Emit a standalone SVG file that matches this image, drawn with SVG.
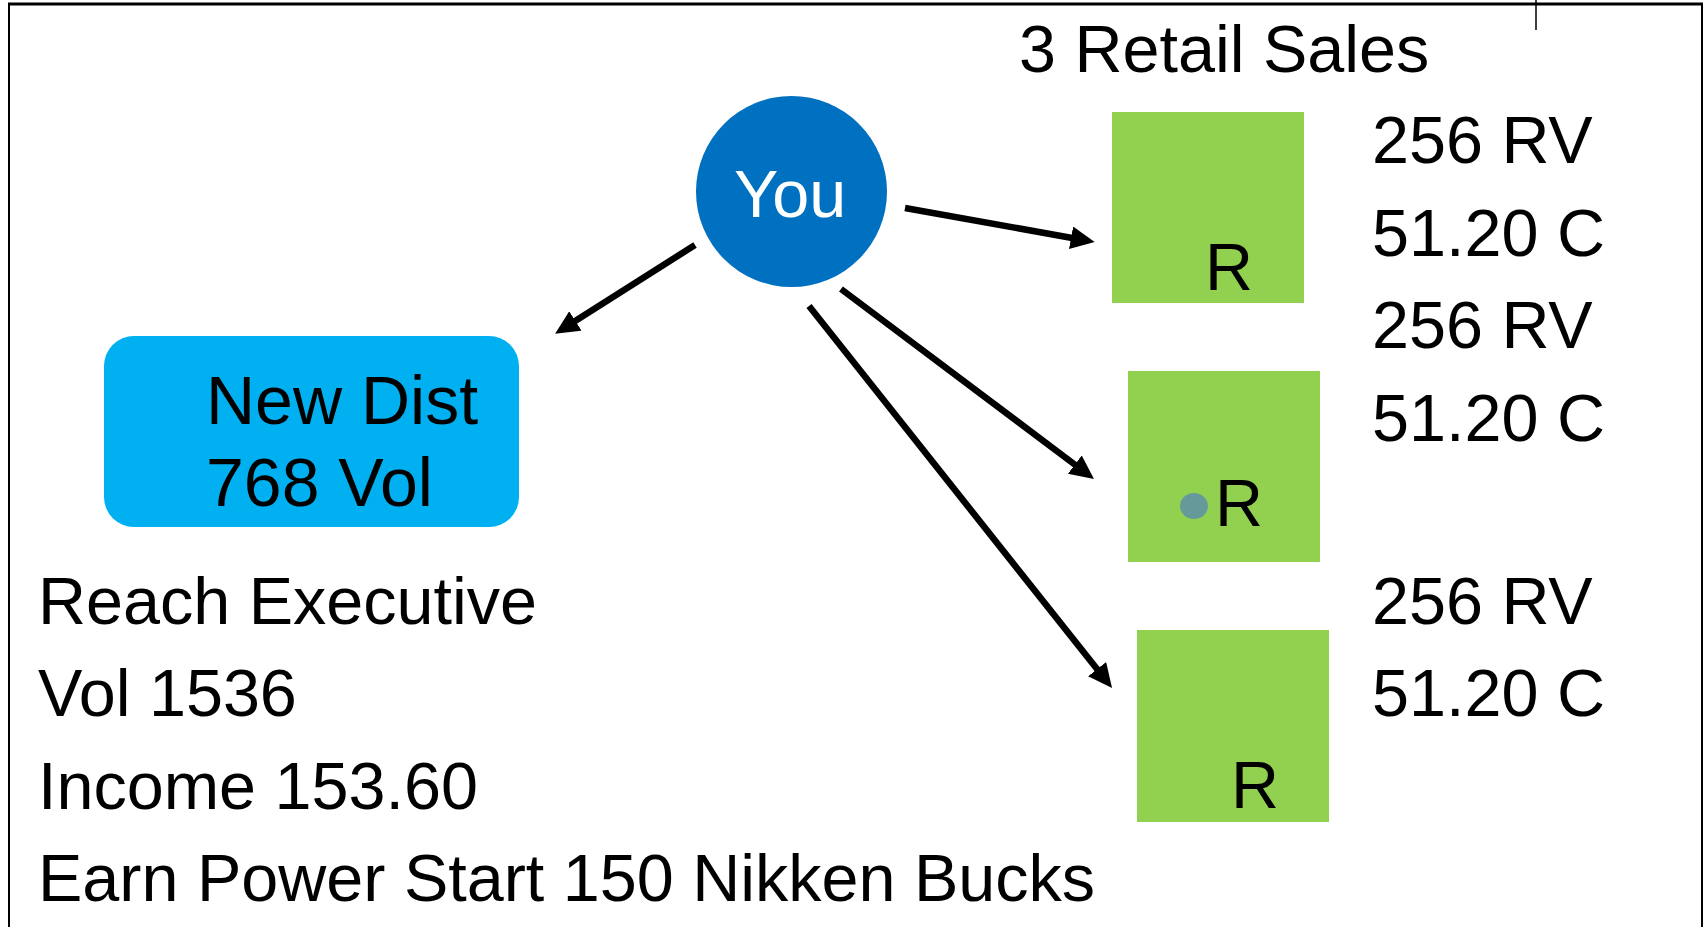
<svg xmlns="http://www.w3.org/2000/svg" width="1707" height="927" viewBox="0 0 1707 927">
<style>
  .t { font-family: "Liberation Sans", Arial, sans-serif; font-size: 66.5px; fill: #000; }
  .green { fill: #92D050; }
  .conn { stroke: #000; stroke-width: 6.5; fill: none; }
  .frame { stroke: #000; fill: none; }
</style>
<defs>
  <marker id="ah" markerUnits="userSpaceOnUse" markerWidth="26" markerHeight="24" refX="4" refY="11.5" orient="auto">
    <path d="M0,0 L24,11.5 L0,23 z" fill="#000"/>
  </marker>
</defs>
<rect width="1707" height="927" fill="#fff"/>
<g id="frame">
  <line class="frame" x1="8" y1="4" x2="1703" y2="4" stroke-width="3"/>
  <line class="frame" x1="9" y1="3" x2="9" y2="927" stroke-width="2"/>
  <line class="frame" x1="1702" y1="3" x2="1702" y2="927" stroke-width="2"/>
  <line class="frame" x1="1536" y1="0" x2="1536" y2="30" stroke-width="1.5"/>
</g>
<g id="connectors">
  <line class="conn" x1="695" y1="245" x2="572" y2="323" marker-end="url(#ah)"/>
  <line class="conn" x1="905" y1="208" x2="1075" y2="238.5" marker-end="url(#ah)"/>
  <line class="conn" x1="841" y1="289" x2="1078" y2="467" marker-end="url(#ah)"/>
  <line class="conn" x1="809" y1="306" x2="1099.6" y2="672.3" marker-end="url(#ah)"/>
</g>
<g id="title">
  <text class="t" x="1019" y="72">3 Retail Sales</text>
</g>
<g id="you">
  <circle cx="791.5" cy="191.5" r="95.5" fill="#0070C0"/>
  <text class="t" x="790" y="217" text-anchor="middle" style="fill:#fff" font-size="64">You</text>
</g>
<g id="retail1">
  <rect class="green" x="1112" y="112" width="192" height="191"/>
  <text class="t" x="1205" y="290">R</text>
</g>
<g id="retail2">
  <rect class="green" x="1128" y="371" width="192" height="191"/>
  <ellipse cx="1194" cy="506" rx="14" ry="13" fill="#669A9A"/>
  <text class="t" x="1215" y="526">R</text>
</g>
<g id="retail3">
  <rect class="green" x="1137" y="630" width="192" height="192"/>
  <text class="t" x="1231" y="808">R</text>
</g>
<g id="newdist">
  <rect x="104" y="336" width="415" height="191" rx="30" ry="30" fill="#00B0F0"/>
  <text class="t" x="206" y="424" font-size="68" style="font-size:68px">New Dist</text>
  <text class="t" x="206" y="506" style="font-size:68px">768 Vol</text>
</g>
<g id="values">
  <text class="t" x="1372" y="163">256 RV</text>
  <text class="t" x="1372" y="256">51.20 C</text>
  <text class="t" x="1372" y="348">256 RV</text>
  <text class="t" x="1372" y="441">51.20 C</text>
  <text class="t" x="1372" y="624">256 RV</text>
  <text class="t" x="1372" y="716">51.20 C</text>
</g>
<g id="summary">
  <text class="t" x="38" y="624">Reach Executive</text>
  <text class="t" x="38" y="716">Vol 1536</text>
  <text class="t" x="38" y="809">Income 153.60</text>
  <text class="t" x="38" y="901">Earn Power Start 150 Nikken Bucks</text>
</g>
</svg>
